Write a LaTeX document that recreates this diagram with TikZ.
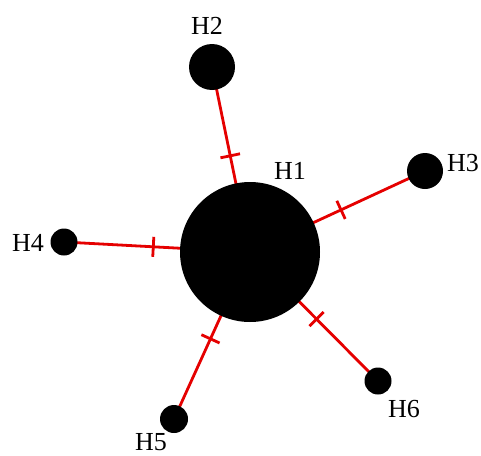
\documentclass[tikz,border=0pt]{standalone}
\usepackage{fontspec}
\setmainfont{Liberation Serif}
\usetikzlibrary{decorations.markings,backgrounds}
\begin{document}
\begin{tikzpicture}[x=1pt,y=-1pt,
  hap/.style={circle,fill=black,inner sep=0pt,minimum size=#1},
  lab/.style={font=\fontsize{26}{26}\selectfont,inner sep=0pt},
  link/.style={draw=red!90!black,line width=2.8pt,
    postaction={decorate,decoration={markings,
      mark=at position 0.52 with {\draw[red!90!black,line width=2.8pt] (0,-10) -- (0,10);}}}}]
\useasboundingbox (0,0) rectangle (481,455);
\node[hap=140pt] (h1) at (250,252) {};
\node[hap=46pt]  (h2) at (212,67) {};
\node[hap=36pt]  (h3) at (425,171) {};
\node[hap=27pt]  (h4) at (64,242) {};
\node[hap=28pt]  (h5) at (174,419) {};
\node[hap=27pt]  (h6) at (378,381) {};
\node[lab] (l1) at (290,171) {H1};
\node[lab] (l2) at (207,26) {H2};
\node[lab] (l3) at (463,163) {H3};
\node[lab] (l4) at (28,243) {H4};
\node[lab] (l5) at (151,442) {H5};
\node[lab] (l6) at (404,409) {H6};
\begin{scope}[on background layer]
\path[link] (h1.center) -- (h2.center);
\path[link] (h1.center) -- (h3.center);
\path[link] (h1.center) -- (h4.center);
\path[link] (h1.center) -- (h5.center);
\path[link] (h1.center) -- (h6.center);
\end{scope}
\end{tikzpicture}
\end{document}
